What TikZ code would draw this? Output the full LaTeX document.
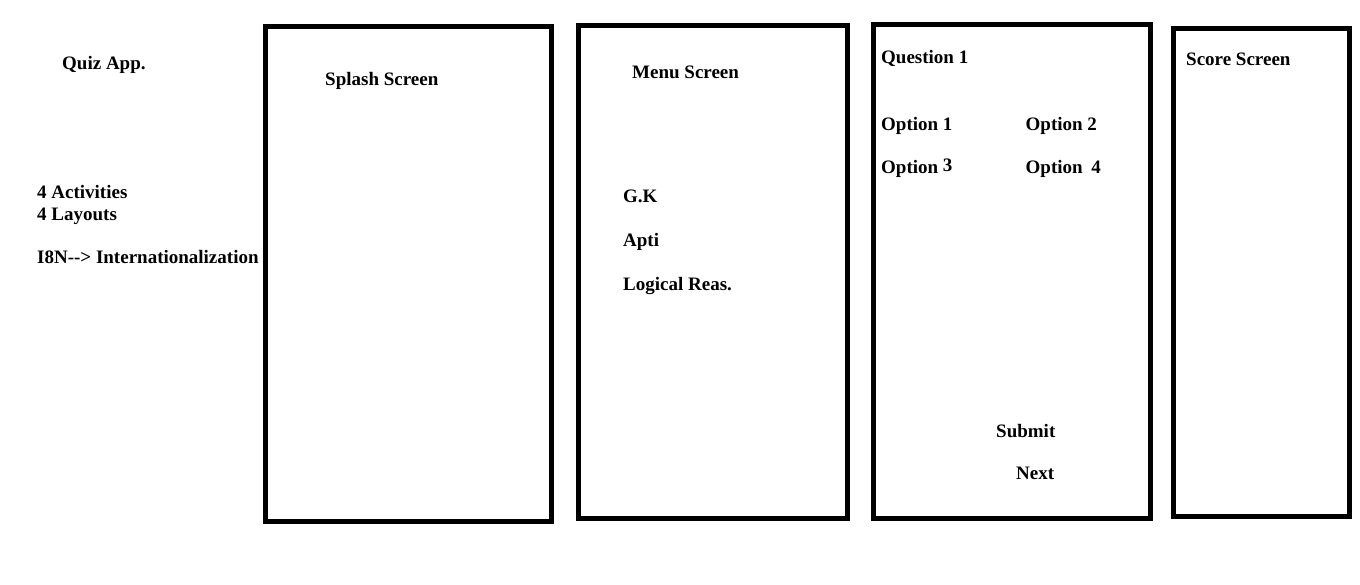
\documentclass[tikz,border=0pt]{standalone}
\usepackage{fontspec}
\setmainfont{Liberation Serif}
\begin{document}
\begin{tikzpicture}[x=1pt,y=-1pt,
  screen/.style={draw=black,line width=5pt,fill=white,inner sep=0pt,outer sep=0pt},
  lbl/.style={anchor=base west,inner sep=0pt,font=\fontsize{19}{22}\selectfont\bfseries}]
\useasboundingbox[fill=white] (0,0) rectangle (1360,584);
% screens
\node[screen,minimum width=286pt,minimum height=495pt] (s1) at (408.5,274) {};
\node[screen,minimum width=268.5pt,minimum height=492.5pt] (s2) at (712.75,271.75) {};
\node[screen,minimum width=277pt,minimum height=493.5pt] (s3) at (1011.5,271.25) {};
\node[screen,minimum width=176pt,minimum height=488.5pt] (s4) at (1261,272.25) {};
% left notes
\node[lbl] (quiz) at (62,69) {Quiz App.};
\node[lbl] (act) at (37,198) {4 Activities};
\node[lbl] (lay) at (37,220) {4 Layouts};
\node[lbl] (i18n) at (37,263.5) {I8N-{}-> Internationalization};
% splash
\node[lbl] (splash) at (325,85) {Splash Screen};
% menu
\node[lbl] (menu) at (632,78) {Menu Screen};
\node[lbl] (gk) at (623,202) {G.K};
\node[lbl] (apti) at (623,246) {Apti};
\node[lbl] (logic) at (623,290) {Logical Reas.};
% question
\node[lbl] (q1) at (881,63.5) {Question 1};
\node[lbl] (o1) at (881,130) {Option 1};
\node[lbl] (o2) at (1025.5,130) {Option 2};
\node[lbl] (o3) at (881,173.5) {Option \raisebox{1.7pt}{3}};
\node[lbl] (o4) at (1025.5,173.5) {Option\hspace{4pt} 4};
\node[lbl] (submit) at (996,437.5) {Submit};
\node[lbl] (next) at (1016,479.5) {Next};
% score
\node[lbl] (score) at (1186,65) {Score Screen};
\end{tikzpicture}
\end{document}
